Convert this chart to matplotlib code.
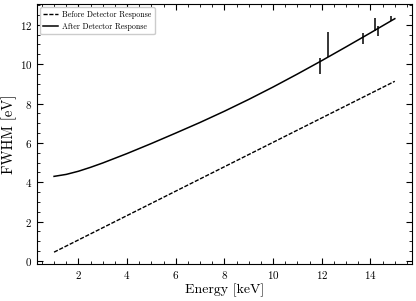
import matplotlib
matplotlib.use('Agg')
import matplotlib.pyplot as plt
from matplotlib.ticker import MultipleLocator

plt.rcParams['font.family'] = 'serif'
plt.rcParams['font.serif'] = ['cmr10']
plt.rcParams['mathtext.fontset'] = 'cm'
plt.rcParams['axes.formatter.use_mathtext'] = True

# energies [keV]
energy = [1, 2, 3, 4, 5, 6, 7, 8, 9, 10, 11, 12, 13, 14, 15]
# FWHM before detector response [eV]
fwhm_before = [0.45, 1.07, 1.69, 2.31, 2.93, 3.55, 4.17, 4.79, 5.41, 6.03, 6.65, 7.27, 7.89, 8.51, 9.13]
# FWHM after detector response [eV]
energy_after = [1, 1.5, 2, 2.5, 3, 4, 5, 6, 7, 8, 9, 10, 11, 12, 13, 14, 15]
fwhm_after = [4.30, 4.40, 4.56, 4.76, 4.98, 5.46, 5.97, 6.50, 7.04, 7.61, 8.21, 8.84,
              9.50, 10.18, 10.88, 11.59, 12.31]

# vertical segments near the high energy end
line_e = [11.91, 12.26, 13.70, 14.18, 14.32, 14.84]
line_lo = [9.50, 10.35, 11.03, 11.70, 11.41, 12.21]
line_hi = [10.29, 11.65, 11.58, 12.33, 11.95, 12.46]

fig = plt.figure(figsize=(4.16, 3.01), dpi=100)
ax = fig.add_axes([0.089, 0.123, 0.901, 0.864])

ax.plot(energy, fwhm_before, color='black', linestyle=(0, (3, 1.2)), linewidth=1.0,
        label='Before Detector Response')
ax.plot(energy_after, fwhm_after, color='black', linewidth=1.1, label='After Detector Response')
ax.vlines(line_e, line_lo, line_hi, color='black', linewidth=1.1)

ax.set_xlabel('Energy [keV]', fontsize=10, labelpad=2)
ax.set_ylabel('FWHM [eV]', fontsize=10.5, labelpad=2)

ax.xaxis.set_major_locator(MultipleLocator(2))
ax.xaxis.set_minor_locator(MultipleLocator(0.5))
ax.yaxis.set_major_locator(MultipleLocator(2))
ax.yaxis.set_minor_locator(MultipleLocator(0.5))
ax.tick_params(which='both', direction='in', top=True, right=True, labelsize=8)
ax.tick_params(which='major', length=4)
ax.tick_params(which='minor', length=2)

ax.legend(loc='upper left', fontsize=5.7, handlelength=1.8, handletextpad=0.6,
          borderaxespad=0.4, framealpha=1)

fig.savefig('out.png', dpi=100)
